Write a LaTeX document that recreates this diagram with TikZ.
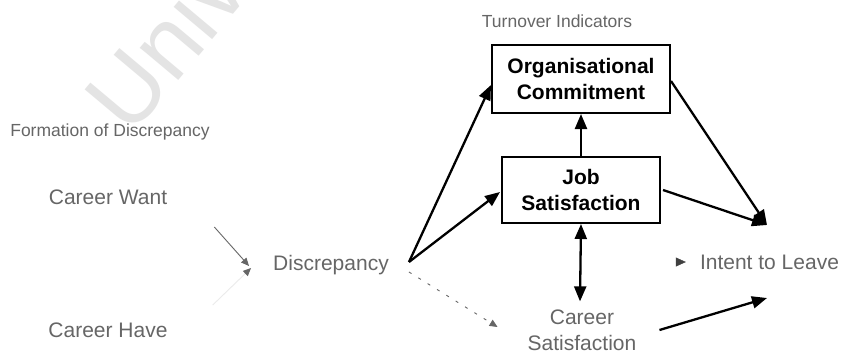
\documentclass[tikz,border=0pt]{standalone}
\usepackage{fontspec}
\setmainfont{Liberation Sans}
\usetikzlibrary{arrows.meta,calc}
\definecolor{faint}{HTML}{666666}
\definecolor{wmark}{HTML}{E4E4E4}
\begin{document}
\begin{tikzpicture}[x=1pt,y=-1pt,
  lbl/.style={inner sep=0pt,text=faint,font=\fontsize{21}{26}\selectfont,align=center},
  hdr/.style={inner sep=0pt,text=faint,font=\fontsize{17.5}{21}\selectfont},
  boxnode/.style={draw=black,line width=2pt,align=center,inner sep=0pt,
    font=\bfseries\fontsize{21}{25.5}\selectfont},
  bigarrow/.style={line width=2.3pt,-{Triangle[length=15pt,width=12pt]}},
  smallarrow/.style={line width=0.9pt,faint,-{Triangle[length=8pt,width=7pt]}}]
\useasboundingbox (0,0) rectangle (844,354);
\fill[white] (0,0) rectangle (844,354);
% watermark
\begin{scope}
\clip (0,0) rectangle (844,354);
\node[rotate=50,anchor=base west,inner sep=0pt,text=wmark,
  font=\fontsize{95}{95}\selectfont] (wm) at (130,138) {Univ};
\end{scope}
% headers
\node[hdr] (h1) at (110,132) {Formation of Discrepancy};
\node[hdr] (h2) at (557,21) {Turnover Indicators};
% left
\node[lbl] (want) at (108,197) {Career Want};
\node[lbl] (have) at (108,330) {Career Have};
\node[lbl] (disc) at (331,265) {Discrepancy};
% boxes
\node[boxnode,minimum width=178pt,minimum height=68pt] (org) at (581,79)
  {Organisational\\Commitment};
\node[boxnode,minimum width=158pt,minimum height=66pt] (job) at (581,190)
  {Job\\Satisfaction};
\node[lbl,inner sep=3pt] (csat) at (582,330) {Career\\Satisfaction};
\node[lbl] (intent) at (769.5,262) {Intent to Leave};
% helper coordinates
\coordinate (dstart) at ($(disc.east)+(20,-3)$);
\coordinate (dlow) at ($(disc.east)+(20,7)$);
\coordinate (itip) at (767,225);
\coordinate (itip2) at (767,298);
\coordinate (wstart) at ($(want.east)+(47,30)$);
\coordinate (hstart) at ($(have.east)+(45,-25)$);
\coordinate (dtipA) at ($(disc.west)+(-24,1)$);
\coordinate (dtipB) at ($(disc.west)+(-22,3)$);
% faint arrows on the left
\draw[smallarrow] (wstart) -- (dtipA);
\draw[line width=0.9pt,black!8,-{Triangle[length=8pt,width=7pt,color=faint]}] (hstart) -- (dtipB);
\draw[faint,line width=0.9pt,dash pattern=on 3pt off 8pt,-{Triangle[length=8pt,width=7pt]}]
  (dlow) -- ($(csat.west)+(-27,-3)$);
% main arrows
\draw[bigarrow] (dstart) -- ($(org.west)+(0,6)$);
\draw[bigarrow] (dstart) -- ($(job.west)+(-1,2)$);
\draw[bigarrow] (job.north) -- (org.south);
\draw[line width=2.3pt,{Triangle[length=15pt,width=12pt]}-{Triangle[length=15pt,width=12pt]}]
  (job.south) -- ($(csat.north)+(-2,-5)$);
\draw[bigarrow] ($(org.east)+(0,2)$) -- (itip);
\draw[bigarrow] ($(job.east)+(2,0)$) -- (itip);
\draw[bigarrow] ($(csat.east)+(20,0)$) -- (itip2);
\draw[black!75,-{Triangle[length=10pt,width=9pt]}] ($(intent.west)+(-24,0)$) -- ($(intent.west)+(-14,0)$);
\end{tikzpicture}
\end{document}
